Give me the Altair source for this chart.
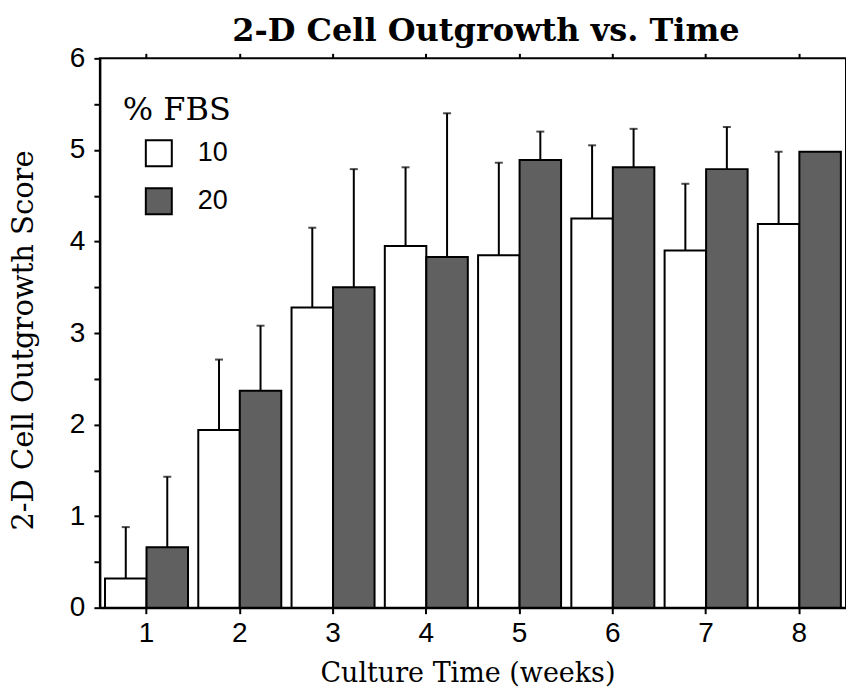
import altair as alt
import pandas as pd

weeks = ["1", "2", "3", "4", "5", "6", "7", "8"]
fbs_levels = ["10", "20"]
mean_10 = [0.32, 1.94, 3.28, 3.95, 3.85, 4.25, 3.90, 4.19]
err_10 = [0.56, 0.77, 0.87, 0.86, 1.01, 0.80, 0.73, 0.79]
mean_20 = [0.66, 2.37, 3.50, 3.83, 4.89, 4.81, 4.79, 4.98]
err_20 = [0.77, 0.71, 1.29, 1.57, 0.31, 0.42, 0.46, None]

rows = []
for i, w in enumerate(weeks):
    for lvl, m, e in (("10", mean_10[i], err_10[i]), ("20", mean_20[i], err_20[i])):
        rows.append({"week": w, "fbs": lvl, "mean": m,
                     "upper": (m + e) if e is not None else None})
df = pd.DataFrame(rows)

SERIF = "DejaVu Serif"
SANS = "Liberation Sans"

xscale = alt.Scale(domain=weeks, paddingInner=0.11, paddingOuter=0.055)
yscale = alt.Scale(domain=[0, 6], nice=False)
xoff = alt.XOffset("fbs:N", scale=alt.Scale(domain=fbs_levels, paddingInner=0, paddingOuter=0))

yaxis = alt.Axis(title="2-D Cell Outgrowth Score",
                 values=[0, 0.5, 1, 1.5, 2, 2.5, 3, 3.5, 4, 4.5, 5, 5.5, 6],
                 labelExpr="datum.value % 1 == 0 ? datum.value : ''",
                 tickSize=6, labelPadding=9, titleX=-67, titleY=282,
                 titleBaseline="alphabetic", titleFontSize=29)

base = alt.Chart(df)

bars = base.mark_bar(stroke="black", strokeWidth=2).encode(
    x=alt.X("week:O", scale=xscale, sort=weeks,
            axis=alt.Axis(orient="bottom", title="Culture Time (weeks)", labelAngle=0,
                          tickSize=6, labelPadding=6, titleY=74, titleX=368,
                          titleBaseline="alphabetic", titleFontSize=27)),
    xOffset=xoff,
    y=alt.Y("mean:Q", scale=yscale, axis=yaxis),
    fill=alt.Fill("fbs:N", scale=alt.Scale(domain=fbs_levels, range=["white", "#606060"]),
                  legend=alt.Legend(title="% FBS", orient="none", legendX=23, legendY=37,
                                    symbolType="square", symbolSize=676,
                                    symbolStrokeColor="black", symbolStrokeWidth=2,
                                    symbolOffset=22, labelOffset=25, rowPadding=14,
                                    titlePadding=12, padding=0)),
)

errs = base.transform_filter("isValid(datum.upper)")

rules = errs.mark_rule(color="black", strokeWidth=2).encode(
    x=alt.X("week:O", scale=xscale, sort=weeks, axis=None),
    xOffset=xoff,
    y=alt.Y("mean:Q", scale=yscale, axis=yaxis),
    y2="upper:Q",
)

caps = errs.mark_tick(color="black", thickness=2, size=8, orient="horizontal").encode(
    x=alt.X("week:O", scale=xscale, sort=weeks, axis=None),
    xOffset=xoff,
    y=alt.Y("upper:Q", scale=yscale, axis=yaxis),
)

top = base.mark_bar(opacity=0).encode(
    x=alt.X("week:O", scale=xscale, sort=weeks,
            axis=alt.Axis(orient="top", labels=False, domain=False, ticks=True,
                          tickSize=5, title="2-D Cell Outgrowth vs. Time",
                          titleFont=SERIF, titleFontSize=32, titleFontWeight="bold",
                          titleX=386, titleY=-18, titleAlign="center",
                          titleBaseline="alphabetic", titleAngle=0)),
    y=alt.Y("mean:Q", scale=yscale, axis=yaxis),
)

chart = alt.layer(bars, rules, caps, top).resolve_axis(x="independent").properties(
    width=747, height=550,
    background="white",
    autosize=alt.AutoSizeParams(type="none"),
    padding={"left": 100, "top": 58, "right": 0, "bottom": 84},
).configure_view(stroke="black", strokeWidth=2).configure_axis(
    grid=False, domainColor="black", domainWidth=2, tickColor="black", tickWidth=2,
    labelFont=SANS, labelFontSize=28, labelColor="black",
    titleFont=SERIF, titleFontSize=28, titleFontWeight="normal", titleColor="black",
).configure_legend(
    titleFont=SERIF, titleFontSize=32, titleFontWeight="normal", titleColor="black",
    labelFont=SANS, labelFontSize=27, labelColor="black",
)

chart.save("out.html", embed_options={"renderer": "svg", "actions": False})
